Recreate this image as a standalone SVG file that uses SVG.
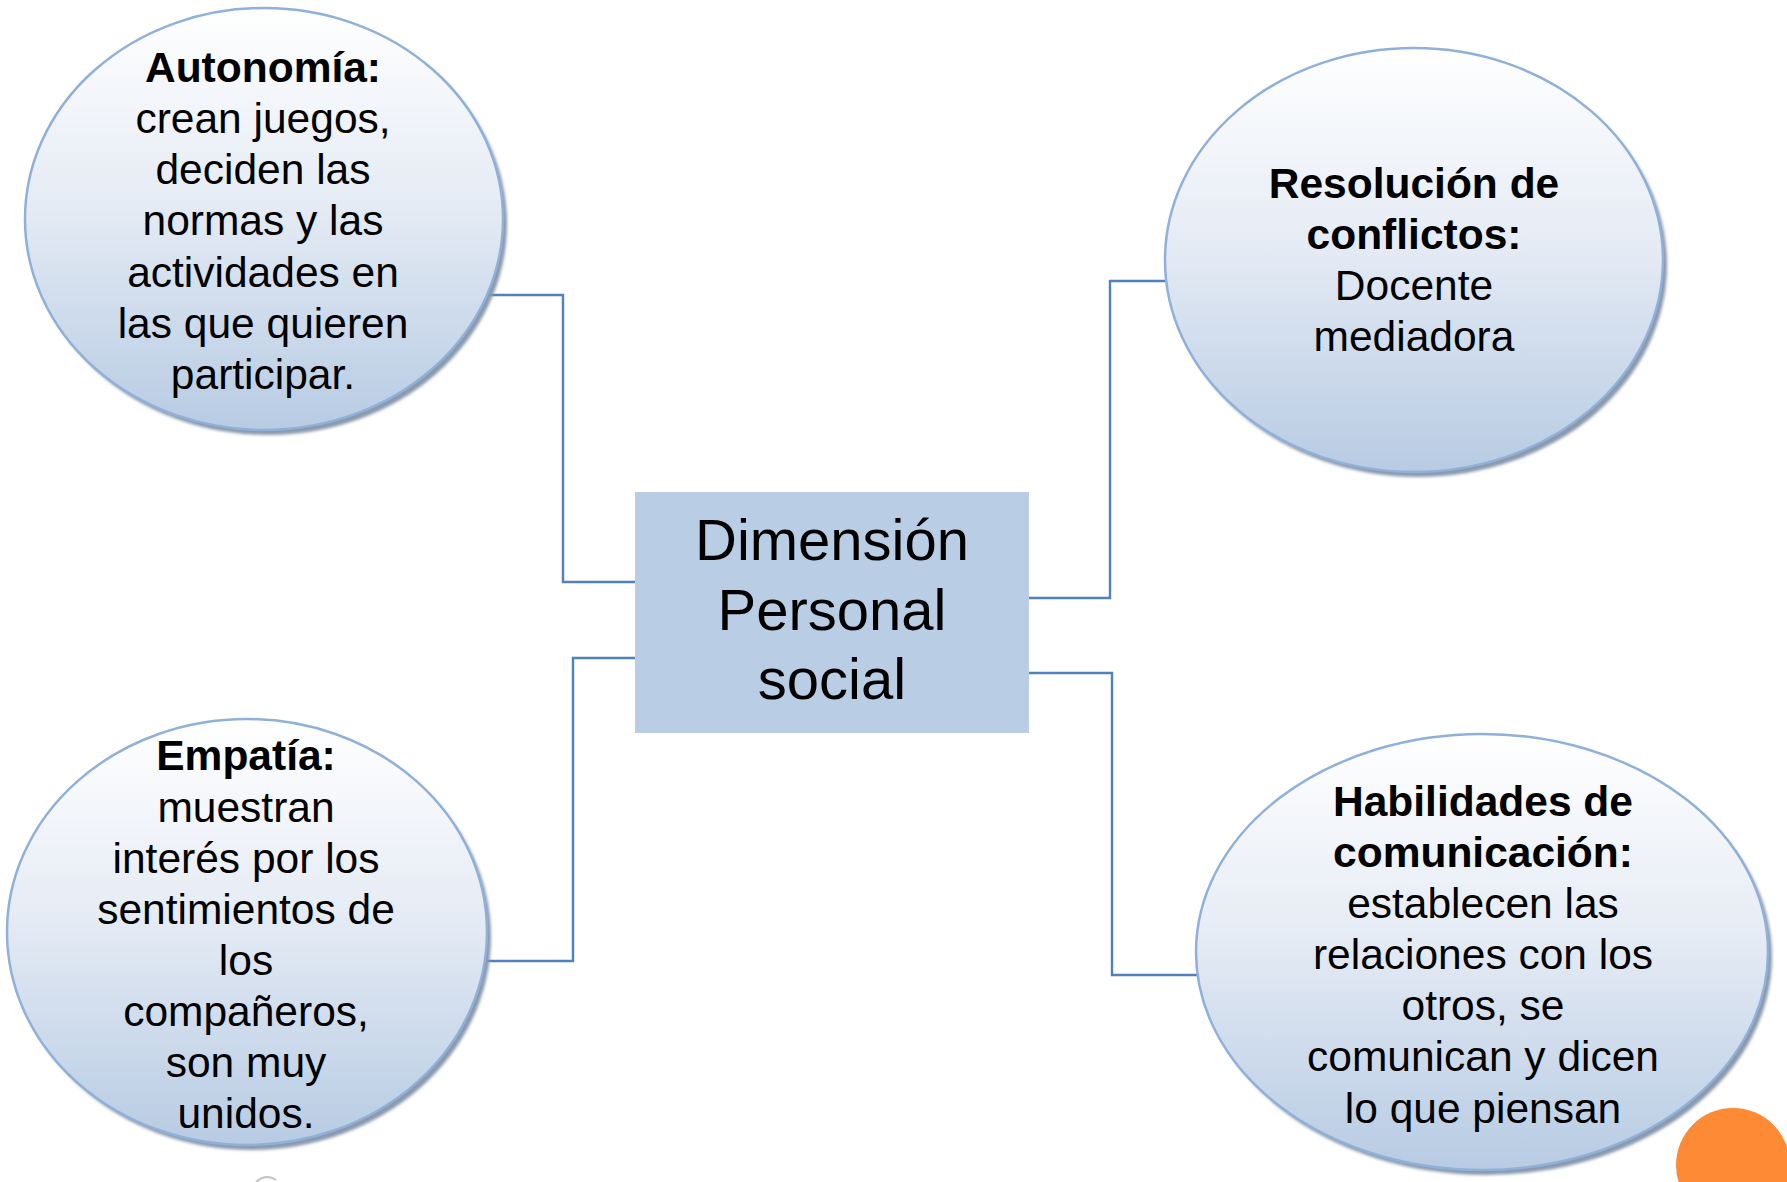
<svg xmlns="http://www.w3.org/2000/svg" width="1787" height="1182" viewBox="0 0 1787 1182">
  <defs>
    <linearGradient id="bubbleFill" x1="0" y1="0" x2="0" y2="1">
      <stop offset="0" stop-color="#FFFFFF"/>
      <stop offset="0.45" stop-color="#E6ECF5"/>
      <stop offset="1" stop-color="#B7CBE3"/>
    </linearGradient>
    <filter id="soft" x="-10%" y="-10%" width="120%" height="120%">
      <feGaussianBlur stdDeviation="1.6"/>
    </filter>
  </defs>
  <style>
    .shadow { fill: #8A99AC; filter: url(#soft); }
    .bubble { fill: url(#bubbleFill); stroke: #8FB0D9; stroke-width: 2.5; }
    .txt { font-family: "Liberation Sans", Arial, sans-serif; font-size: 42.5px; fill: #000000; text-anchor: middle; }
    .b { font-weight: bold; }
    .center { font-family: "Liberation Sans", Arial, sans-serif; font-size: 58px; fill: #000000; text-anchor: middle; }
    .conn { fill: none; stroke: #4F81BD; stroke-width: 2.4; }
  </style>

  <rect x="0" y="0" width="1787" height="1182" fill="#FFFFFF"/>

  <g id="connectors">
    <polyline class="conn" points="488,295 563,295 563,582 638,582"/>
    <polyline class="conn" points="485,961 573,961 573,658 636,658"/>
    <polyline class="conn" points="1029,598 1110,598 1110,281 1167,281"/>
    <polyline class="conn" points="1029,673 1112,673 1112,975 1197,975"/>
  </g>

  <g id="node-autonomia">
    <ellipse class="shadow" cx="268" cy="224" rx="239" ry="211"/>
    <ellipse class="bubble" cx="264" cy="219" rx="239" ry="211"/>
    <text class="txt b" x="263" y="82">Autonomía:</text>
    <text class="txt" x="263" y="133">crean juegos,</text>
    <text class="txt" x="263" y="184">deciden las</text>
    <text class="txt" x="263" y="235">normas y las</text>
    <text class="txt" x="263" y="287">actividades en</text>
    <text class="txt" x="263" y="338">las que quieren</text>
    <text class="txt" x="263" y="389">participar.</text>
  </g>

  <g id="node-resolucion">
    <ellipse class="shadow" cx="1418" cy="265" rx="249" ry="212"/>
    <ellipse class="bubble" cx="1414" cy="260" rx="249" ry="212"/>
    <text class="txt b" x="1414" y="198">Resolución de</text>
    <text class="txt b" x="1414" y="249">conflictos:</text>
    <text class="txt" x="1414" y="300">Docente</text>
    <text class="txt" x="1414" y="351">mediadora</text>
  </g>

  <g id="node-empatia">
    <ellipse class="shadow" cx="251" cy="937" rx="240" ry="213"/>
    <ellipse class="bubble" cx="247" cy="932" rx="240" ry="213"/>
    <text class="txt b" x="246" y="770">Empatía:</text>
    <text class="txt" x="246" y="822">muestran</text>
    <text class="txt" x="246" y="873">interés por los</text>
    <text class="txt" x="246" y="924">sentimientos de</text>
    <text class="txt" x="246" y="975">los</text>
    <text class="txt" x="246" y="1026">compañeros,</text>
    <text class="txt" x="246" y="1077">son muy</text>
    <text class="txt" x="246" y="1128">unidos.</text>
  </g>

  <g id="node-habilidades">
    <ellipse class="shadow" cx="1486" cy="957" rx="286" ry="218"/>
    <ellipse class="bubble" cx="1482" cy="952" rx="286" ry="218"/>
    <text class="txt b" x="1483" y="816">Habilidades de</text>
    <text class="txt b" x="1483" y="867">comunicación:</text>
    <text class="txt" x="1483" y="918">establecen las</text>
    <text class="txt" x="1483" y="969">relaciones con los</text>
    <text class="txt" x="1483" y="1020">otros, se</text>
    <text class="txt" x="1483" y="1071">comunican y dicen</text>
    <text class="txt" x="1483" y="1123">lo que piensan</text>
  </g>

  <g id="node-center">
    <rect x="635" y="492" width="394" height="241" fill="#B9CDE5"/>
    <text class="center" x="832" y="560">Dimensión</text>
    <text class="center" x="832" y="630">Personal</text>
    <text class="center" x="832" y="699">social</text>
  </g>

  <circle cx="1733" cy="1165" r="57" fill="#FF8A35"/>
  <path d="M256,1182 Q266,1173 276,1180" fill="none" stroke="#9A9A9A" stroke-width="2" opacity="0.6"/>
</svg>
